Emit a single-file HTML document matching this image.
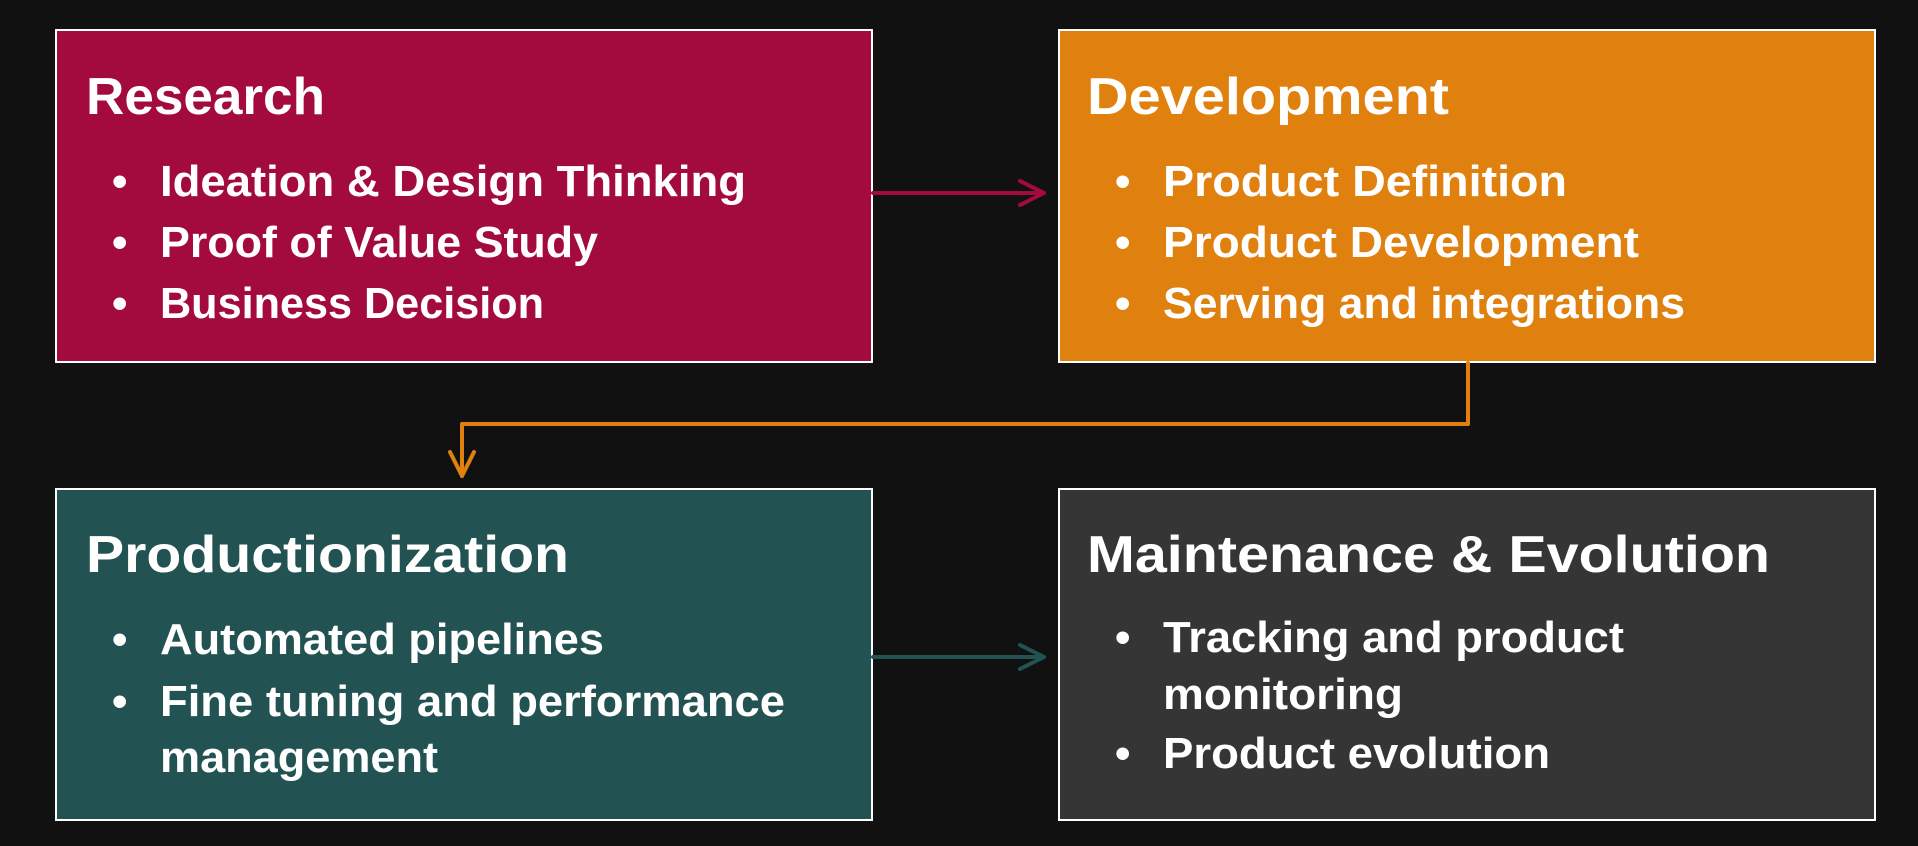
<!DOCTYPE html>
<html><head><meta charset="utf-8"><style>
html,body{margin:0;padding:0;background:#111111;}
svg{display:block}
text{font-family:"Liberation Sans",sans-serif;font-weight:bold;fill:#fff;}
.t{font-size:52px}
.b{font-size:44px}
</style></head><body>
<svg width="1918" height="846" viewBox="0 0 1918 846" xmlns="http://www.w3.org/2000/svg">
<rect width="1918" height="846" fill="#111111"/>
<!-- boxes -->
<rect x="56" y="30" width="816" height="332" fill="#a30b3f" stroke="#fff" stroke-width="2"/>
<rect x="1059" y="30" width="816" height="332" fill="#e0800f" stroke="#fff" stroke-width="2"/>
<rect x="56" y="489" width="816" height="331" fill="#235252" stroke="#fff" stroke-width="2"/>
<rect x="1059" y="489" width="816" height="331" fill="#353535" stroke="#fff" stroke-width="2"/>
<!-- connectors -->
<g fill="none" stroke-width="4" stroke-linecap="round" stroke-linejoin="round">
<path d="M873 193 H1044" stroke="#a30b3f"/>
<path d="M1020 181 L1044 193 L1020 205" stroke="#a30b3f"/>
<path d="M1468 363 V424 H462 V476" stroke="#e0800f"/>
<path d="M450 452 L462 476 L474 452" stroke="#e0800f"/>
<path d="M873 657 H1044" stroke="#235252"/>
<path d="M1020 645 L1044 657 L1020 669" stroke="#235252"/>
</g>
<!-- Research -->
<text class="t" x="86" y="114" textLength="239" lengthAdjust="spacingAndGlyphs">Research</text>
<g class="b">
<text class="b" x="112" y="196">•</text><text class="b" x="160" y="196" textLength="586" lengthAdjust="spacingAndGlyphs">Ideation &amp; Design Thinking</text>
<text class="b" x="112" y="257">•</text><text class="b" x="160" y="257" textLength="438" lengthAdjust="spacingAndGlyphs">Proof of Value Study</text>
<text class="b" x="112" y="318">•</text><text class="b" x="160" y="318" textLength="384" lengthAdjust="spacingAndGlyphs">Business Decision</text>
</g>
<!-- Development -->
<text class="t" x="1087" y="114" textLength="362" lengthAdjust="spacingAndGlyphs">Development</text>
<text class="b" x="1115" y="196">•</text><text class="b" x="1163" y="196" textLength="404" lengthAdjust="spacingAndGlyphs">Product Definition</text>
<text class="b" x="1115" y="257">•</text><text class="b" x="1163" y="257" textLength="476" lengthAdjust="spacingAndGlyphs">Product Development</text>
<text class="b" x="1115" y="318">•</text><text class="b" x="1163" y="318" textLength="522" lengthAdjust="spacingAndGlyphs">Serving and integrations</text>
<!-- Productionization -->
<text class="t" x="86" y="572" textLength="483" lengthAdjust="spacingAndGlyphs">Productionization</text>
<text class="b" x="112" y="654">•</text><text class="b" x="160" y="654" textLength="444" lengthAdjust="spacingAndGlyphs">Automated pipelines</text>
<text class="b" x="112" y="716">•</text><text class="b" x="160" y="716" textLength="625" lengthAdjust="spacingAndGlyphs">Fine tuning and performance</text>
<text class="b" x="160" y="772" textLength="278" lengthAdjust="spacingAndGlyphs">management</text>
<!-- Maintenance -->
<text class="t" x="1087" y="572" textLength="683" lengthAdjust="spacingAndGlyphs">Maintenance &amp; Evolution</text>
<text class="b" x="1115" y="652">•</text><text class="b" x="1163" y="652" textLength="461" lengthAdjust="spacingAndGlyphs">Tracking and product</text>
<text class="b" x="1163" y="709" textLength="240" lengthAdjust="spacingAndGlyphs">monitoring</text>
<text class="b" x="1115" y="768">•</text><text class="b" x="1163" y="768" textLength="387" lengthAdjust="spacingAndGlyphs">Product evolution</text>
</svg>
</body></html>
